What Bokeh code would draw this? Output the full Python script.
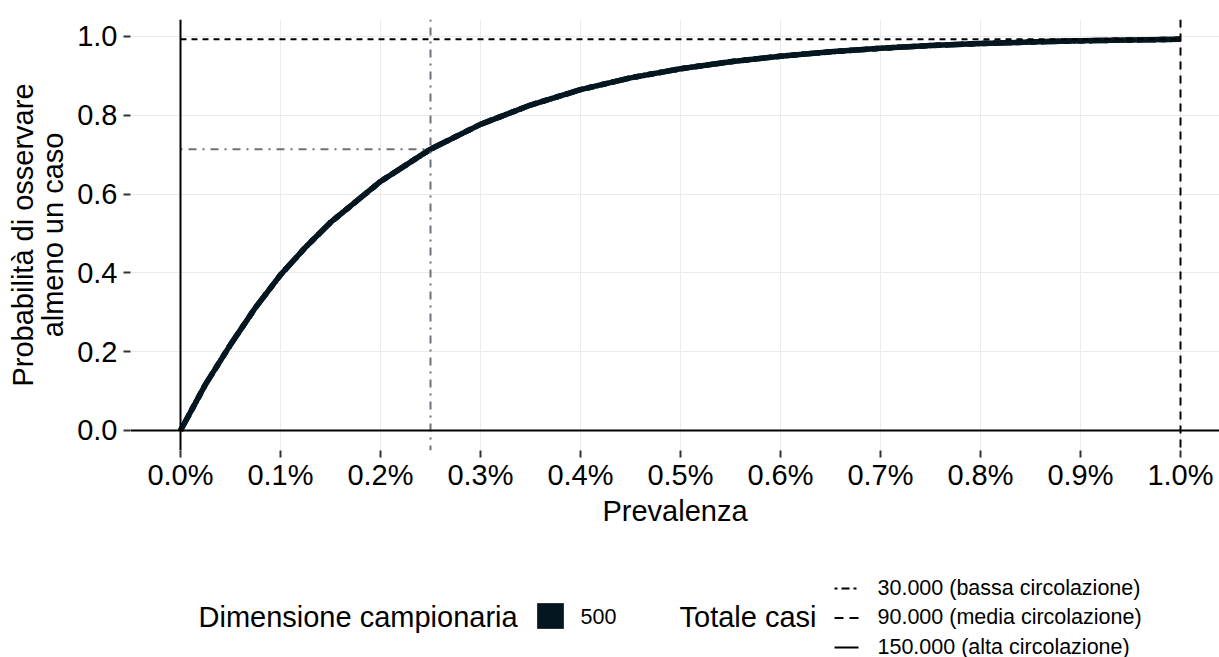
from bokeh.plotting import figure
from bokeh.layouts import column
from bokeh.models import Range1d, FixedTicker, PrintfTickFormatter, Span
from bokeh.core.properties import value
from bokeh.embed import file_html
from bokeh.resources import INLINE

# ---- data ----
prevalenza = [0.0, 0.025, 0.05, 0.075, 0.10, 0.125, 0.15, 0.20, 0.25, 0.30, 0.35, 0.40, 0.45,
              0.50, 0.55, 0.60, 0.65, 0.70, 0.75, 0.80, 0.85, 0.90, 0.95, 1.00]
probabilita = [0.0, 0.117, 0.218, 0.312, 0.395, 0.465, 0.528, 0.632, 0.714, 0.777, 0.826, 0.865, 0.895,
               0.918, 0.936, 0.950, 0.961, 0.970, 0.977, 0.982, 0.986, 0.989, 0.991, 0.993]
ref_prev = [0.25, 1.00]
ref_prob = [0.714, 0.993]
x_ticks = [0.0, 0.1, 0.2, 0.3, 0.4, 0.5, 0.6, 0.7, 0.8, 0.9, 1.0]
y_ticks = [0.0, 0.2, 0.4, 0.6, 0.8, 1.0]
campione_title = "Dimensione campionaria"
campione_labels = ["500"]
casi_title = "Totale casi"
casi_labels = ["30.000 (bassa circolazione)", "90.000 (media circolazione)", "150.000 (alta circolazione)"]
casi_dashes = ["3 4 8 4", "9 6", "solid"]

FONT = "Liberation Sans"
BIG = "29px"
SMALL = "21.5px"
CURVE = "#04161F"
GRAY = "#6C7279"

p = figure(width=1219, height=545, x_range=Range1d(-0.05, 1.039), y_range=Range1d(-0.0508, 1.0431),
           output_backend="svg", toolbar_location=None,
           min_border_left=130, min_border_right=0, min_border_top=19, min_border_bottom=95)
p.outline_line_color = None
p.background_fill_color = "white"
p.border_fill_color = "white"

xt = FixedTicker(ticks=x_ticks)
yt = FixedTicker(ticks=y_ticks)
p.xaxis.ticker = xt
p.yaxis.ticker = yt
p.xgrid.ticker = xt
p.ygrid.ticker = yt
p.xaxis.formatter = PrintfTickFormatter(format="%.1f%%")
p.yaxis.formatter = PrintfTickFormatter(format="%.1f")
for g in (p.xgrid, p.ygrid):
    g.grid_line_color = "#EBEBEB"
    g.grid_line_width = 1
for ax in (p.xaxis, p.yaxis):
    ax.axis_line_color = None
    ax.major_tick_line_color = "#333333"
    ax.major_tick_line_width = 2
    ax.major_tick_out = 7
    ax.major_tick_in = 0
    ax.minor_tick_line_color = None
    ax.major_label_text_font = FONT
    ax.major_label_text_font_size = BIG
    ax.major_label_text_color = "black"
    ax.axis_label_text_font = FONT
    ax.axis_label_text_font_size = BIG
    ax.axis_label_text_font_style = "normal"
    ax.axis_label_text_color = "black"
p.xaxis.major_label_standoff = 1
p.yaxis.major_label_standoff = 6
p.xaxis.axis_label = "Prevalenza"
p.xaxis.axis_label_standoff = 1
p.yaxis.axis_label = "Probabilità di osservare\nalmeno un caso"
p.yaxis.axis_label_standoff = 5
p.yaxis.axis_label_text_line_height = 0.95

# curve: three overlapping series (one per linetype)
for d in ["dotdash", "dashed", "solid"]:
    p.line(prevalenza, probabilita, line_width=5.5, line_color=CURVE, line_dash=d)

# reference lines
p.segment(x0=[0.0], y0=[ref_prob[0]], x1=[ref_prev[0]], y1=[ref_prob[0]],
          line_color=GRAY, line_width=2, line_dash="2 6 8 6")
p.segment(x0=[0.0], y0=[ref_prob[1]], x1=[ref_prev[1]], y1=[ref_prob[1]],
          line_color="black", line_width=2, line_dash="6 5")
p.add_layout(Span(location=ref_prev[0], dimension="height", line_color=GRAY, line_width=2, line_dash="2 6 8 6"))
p.add_layout(Span(location=ref_prev[1], dimension="height", line_color="black", line_width=2, line_dash="8 6"))
p.add_layout(Span(location=0, dimension="height", line_color="black", line_width=2))
p.add_layout(Span(location=0, dimension="width", line_color="black", line_width=2))

# ---- legend row (page pixel coordinates; frame aligned with the main frame) ----
leg = figure(width=1219, height=112, x_range=Range1d(130, 1219), y_range=Range1d(657, 545),
             output_backend="svg", toolbar_location=None, x_axis_location=None, y_axis_location=None,
             min_border_left=130, min_border_right=0, min_border_top=0, min_border_bottom=0)
leg.outline_line_color = None
leg.xgrid.visible = False
leg.ygrid.visible = False
leg.background_fill_color = "white"
leg.border_fill_color = "white"

leg.text(x=[198], y=[616], text=[campione_title], text_font=value(FONT), text_font_size=BIG,
         text_baseline="alphabetic", text_align="left", text_color="black")
leg.quad(left=[537], right=[563], top=[603], bottom=[628], fill_color=CURVE, line_color="#333333", line_width=1)
leg.text(x=[580], y=[616], text=campione_labels, text_font=value(FONT), text_font_size=SMALL,
         text_baseline="alphabetic", text_align="left", text_color="black")

leg.text(x=[679], y=[616], text=[casi_title], text_font=value(FONT), text_font_size=BIG,
         text_baseline="alphabetic", text_align="left", text_color="black")
rows = [588, 617.5, 647]
for r, lab, dsh in zip(rows, casi_labels, casi_dashes):
    leg.segment(x0=[834], y0=[r], x1=[858], y1=[r], line_color="black", line_width=2, line_dash=dsh)
    leg.text(x=[877], y=[r - 1], text=[lab], text_font=value(FONT), text_font_size=SMALL,
             text_baseline="alphabetic", text_align="left", text_color="black")

layout = column(p, leg, spacing=0)
open("out.html", "w").write(file_html(layout, INLINE))
